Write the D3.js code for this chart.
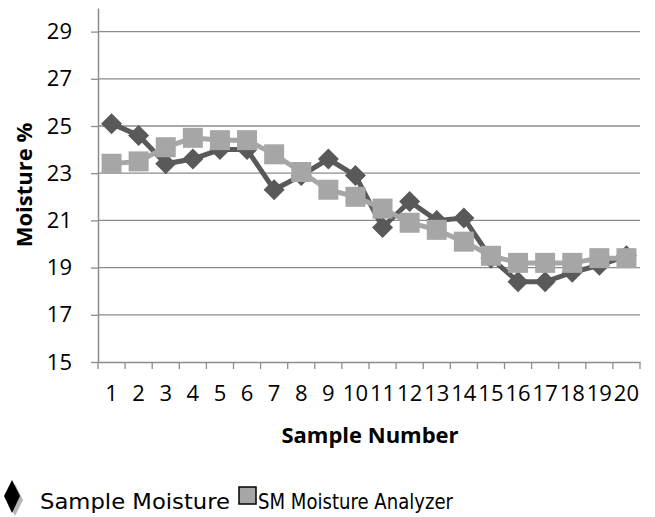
<!DOCTYPE html>
<html>
<head>
<meta charset="utf-8">
<script src="https://cdn.jsdelivr.net/npm/d3@7"></script>
<style>
  body { margin: 0; background: #fff; }
  text { font-family: "Open Sans", sans-serif; }
</style>
</head>
<body>
<svg id="chart" width="655" height="517"></svg>
<script>
// --- Data ---
const samples = d3.range(1, 21).map(String);
const sampleMoisture = [25.1, 24.6, 23.4, 23.6, 24.0, 24.0, 22.3, 22.9, 23.6, 22.9,
                        20.7, 21.8, 21.0, 21.1, 19.4, 18.4, 18.4, 18.8, 19.1, 19.5];
const analyzerMoisture = [23.4, 23.5, 24.1, 24.5, 24.4, 24.4, 23.8, 23.05, 22.3, 22.0,
                          21.5, 20.9, 20.6, 20.1, 19.5, 19.2, 19.2, 19.2, 19.4, 19.4];
const yTicks = [15, 17, 19, 21, 23, 25, 27, 29];

const svg = d3.select('#chart');
const margin = { left: 98, right: 15, top: 8, bottom: 155 };
const width = 655 - margin.left - margin.right;
const height = 517 - margin.top - margin.bottom;

const g = svg.append('g').attr('transform', `translate(${margin.left},${margin.top})`);

const x = d3.scaleBand().domain(samples).range([0, width]);
const y = d3.scaleLinear().domain([15, 30]).range([height, 0]);

// gridlines
g.selectAll('line.grid')
    .data(yTicks.slice(1))
    .join('line')
    .attr('x1', 0).attr('x2', width)
    .attr('y1', d => y(d)).attr('y2', d => y(d))
    .attr('stroke', '#8c8c8c')
    .attr('stroke-width', 1.3);

// y axis
const yAxis = g.append('g')
    .call(d3.axisLeft(y).tickValues(yTicks).tickSize(7).tickSizeOuter(0).tickPadding(19));
yAxis.select('.domain').attr('stroke', '#8c8c8c').attr('stroke-width', 1.5);
yAxis.selectAll('.tick line').attr('stroke', '#8c8c8c').attr('stroke-width', 1.3);
yAxis.selectAll('.tick text').attr('font-size', 22).attr('fill', '#000')
    .style('font-family', '"Open Sans", sans-serif');

// x axis, ticks sit between categories
const xAxis = g.append('g').attr('transform', `translate(0,${height})`)
    .call(d3.axisBottom(x).tickSize(0).tickPadding(23));
xAxis.select('.domain').attr('stroke', '#8c8c8c').attr('stroke-width', 1.5);
xAxis.selectAll('.tick text').attr('font-size', 22).attr('fill', '#000')
    .style('font-family', '"Open Sans", sans-serif');
g.selectAll('line.xtick')
    .data(d3.range(samples.length + 1))
    .join('line')
    .attr('x1', i => i * x.step()).attr('x2', i => i * x.step())
    .attr('y1', height).attr('y2', height + 7)
    .attr('stroke', '#8c8c8c')
    .attr('stroke-width', 1.3);

// axis titles
svg.append('text')
    .attr('transform', `translate(32,${margin.top + y(22.5)}) rotate(-90)`)
    .attr('text-anchor', 'middle')
    .attr('font-size', 22).attr('font-weight', 'bold')
    .text('Moisture %');
svg.append('text')
    .attr('x', 370).attr('y', 443)
    .attr('text-anchor', 'middle')
    .attr('font-size', 22).attr('font-weight', 'bold')
    .text('Sample Number');

const cx = (d, i) => x(samples[i]) + x.bandwidth() / 2;
const line = d3.line().x(cx).y(d => y(d));

// Sample Moisture (dark diamonds)
g.append('path')
    .attr('d', line(sampleMoisture))
    .attr('fill', 'none')
    .attr('stroke', '#595959')
    .attr('stroke-width', 5);
g.selectAll('path.diamond')
    .data(sampleMoisture)
    .join('path')
    .attr('class', 'diamond')
    .attr('transform', (d, i) => `translate(${cx(d, i)},${y(d)})`)
    .attr('d', 'M0,-10.5L10.5,0L0,10.5L-10.5,0Z')
    .attr('fill', '#595959');

// SM Moisture Analyzer (light squares)
g.append('path')
    .attr('d', line(analyzerMoisture))
    .attr('fill', 'none')
    .attr('stroke', '#a6a6a6')
    .attr('stroke-width', 5);
g.selectAll('rect.sq')
    .data(analyzerMoisture)
    .join('rect')
    .attr('class', 'sq')
    .attr('x', (d, i) => cx(d, i) - 10)
    .attr('y', d => y(d) - 10)
    .attr('width', 20).attr('height', 20)
    .attr('fill', '#a6a6a6');

// legend
const legend = svg.append('g');
legend.append('path')
    .attr('d', 'M15,484L23,500L15,516L7,500Z')
    .attr('fill', '#b5b5b5');
legend.append('path')
    .attr('d', 'M12,480L20,496L12,513L4,496Z')
    .attr('fill', '#000');
legend.append('text')
    .attr('x', 40).attr('y', 509)
    .attr('font-size', 22)
    .attr('textLength', 190).attr('lengthAdjust', 'spacingAndGlyphs')
    .style('font-family', '"DejaVu Sans", sans-serif')
    .text('Sample Moisture');
legend.append('rect')
    .attr('x', 239).attr('y', 487)
    .attr('width', 17).attr('height', 17)
    .attr('fill', '#a6a6a6')
    .attr('stroke', '#000')
    .attr('stroke-width', 1.5);
legend.append('text')
    .attr('x', 258).attr('y', 509)
    .attr('font-size', 22)
    .attr('textLength', 195).attr('lengthAdjust', 'spacingAndGlyphs')
    .style('font-family', '"DejaVu Sans", sans-serif')
    .text('SM Moisture Analyzer');
</script>
</body>
</html>
